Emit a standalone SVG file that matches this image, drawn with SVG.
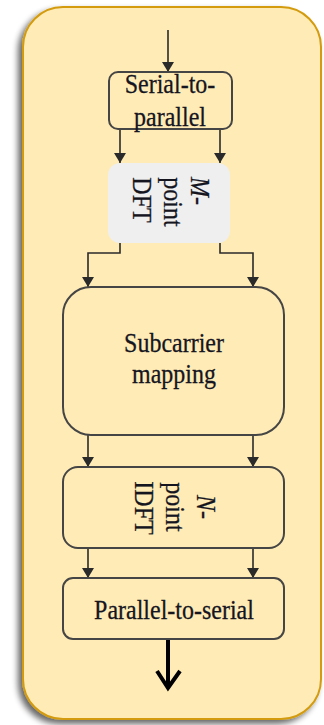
<svg xmlns="http://www.w3.org/2000/svg" width="324" height="725" viewBox="0 0 324 725">
<defs>
<filter id="sh" x="-20%" y="-20%" width="140%" height="140%">
<feGaussianBlur in="SourceAlpha" stdDeviation="3"/>
<feOffset dx="-4" dy="4" result="b"/>
<feComponentTransfer><feFuncA type="linear" slope="0.6"/></feComponentTransfer>
<feMerge><feMergeNode/><feMergeNode in="SourceGraphic"/></feMerge>
</filter>
<marker id="ah" viewBox="0 0 10 12" refX="10" refY="6" markerWidth="10" markerHeight="12" markerUnits="userSpaceOnUse" orient="auto">
<path d="M0,0 L10,6 L0,12 Z" fill="#2a2a2a"/>
</marker>
</defs>
<style>
.box{fill:none;stroke:#454545;stroke-width:2}
.t{font-family:"Liberation Serif","Times New Roman",serif;font-size:24px;fill:#15151f;text-anchor:middle;stroke:#15151f;stroke-width:0.25}
.c{fill:none;stroke:#2a2a2a;stroke-width:1.6}
</style>
<rect x="23" y="7" width="298" height="712" rx="40" fill="#FFEBB5" stroke="#D39B0E" stroke-width="2" filter="url(#sh)"/>
<g id="connectors">
<path class="c" d="M168 30 V72" marker-end="url(#ah)"/>
<path class="c" d="M120 129 V163" marker-end="url(#ah)"/>
<path class="c" d="M220 129 V163" marker-end="url(#ah)"/>
<path class="c" d="M120 243 V253 H88 V287" marker-end="url(#ah)"/>
<path class="c" d="M220 243 V253 H253 V287" marker-end="url(#ah)"/>
<path class="c" d="M88 435 V467" marker-end="url(#ah)"/>
<path class="c" d="M253 435 V467" marker-end="url(#ah)"/>
<path class="c" d="M88 548 V578" marker-end="url(#ah)"/>
<path class="c" d="M253 548 V578" marker-end="url(#ah)"/>
<path d="M168 639 V688" fill="none" stroke="#000" stroke-width="4"/>
<path d="M157 671 L168 688 L180 671" fill="none" stroke="#000" stroke-width="4"/>
</g>
<g id="serial-to-parallel">
<rect class="box" x="109" y="72" width="123" height="57" rx="9"/>
<text class="t" transform="translate(170,93) scale(1,1.12)">Serial-to-</text>
<text class="t" transform="translate(170,126) scale(1,1.12)">parallel</text>
</g>
<g id="m-point-dft">
<rect x="108" y="163" width="122" height="80" rx="12" fill="#EFEFEF"/>
<text class="t" transform="translate(191,191) rotate(90) scale(1,1.12)" font-style="italic">M-</text>
<text class="t" transform="translate(164,202) rotate(90) scale(1,1.12)">point</text>
<text class="t" transform="translate(133,200) rotate(90) scale(1,1.12)">DFT</text>
</g>
<g id="subcarrier-mapping">
<rect class="box" x="63" y="287" width="221" height="148" rx="28"/>
<text class="t" transform="translate(174,352) scale(1,1.12)">Subcarrier</text>
<text class="t" transform="translate(174,383) scale(1,1.12)">mapping</text>
</g>
<g id="n-point-idft">
<rect class="box" x="63" y="467" width="221" height="81" rx="15"/>
<text class="t" transform="translate(197,507) rotate(90) scale(1,1.12)" font-style="italic">N-</text>
<text class="t" transform="translate(166,507) rotate(90) scale(1,1.12)">point</text>
<text class="t" transform="translate(135,508) rotate(90) scale(1,1.12)">IDFT</text>
</g>
<g id="parallel-to-serial">
<rect class="box" x="63" y="578" width="221" height="61" rx="10"/>
<text class="t" transform="translate(174,619) scale(1,1.12)">Parallel-to-serial</text>
</g>
</svg>
